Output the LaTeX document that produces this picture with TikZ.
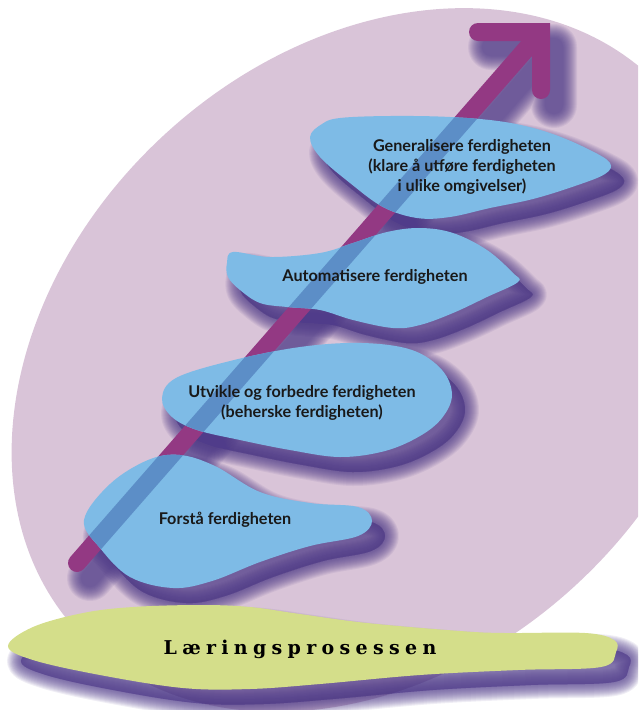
\documentclass[tikz,border=0pt]{standalone}
\usepackage{fontspec}
\setmainfont{Lato}
\newfontfamily\bannerfont[LetterSpace=28]{DejaVu Serif}
\usepackage{tikz}
\usetikzlibrary{positioning}
\definecolor{ovalcolor}{RGB}{217,196,216}
\definecolor{blobcolor}{RGB}{126,187,230}
\definecolor{seencolor}{RGB}{92,142,199}
\definecolor{arrowcolor}{RGB}{147,57,131}
\definecolor{shadowcolor}{RGB}{80,60,138}
\definecolor{bannercolor}{RGB}{212,222,138}

\newcommand{\forstapath}{plot[smooth cycle, tension=0.6] coordinates {(84,520) (100,548) (130,577) (173,588) (212,581) (260,562) (310,546) (358,536) (372,521) (358,507) (310,503) (260,492) (215,466) (180,455) (148,460) (110,484)}}
\newcommand{\utviklepath}{plot[smooth cycle, tension=0.6] coordinates {(162,398) (172,417) (197,430) (240,440) (290,450) (340,457) (385,451) (420,436) (442,418) (452,395) (442,370) (412,350) (362,343) (300,347) (230,361) (176,378)}}
\newcommand{\automatiserepath}{plot[smooth cycle, tension=0.6] coordinates {(227,263) (233,252) (270,257) (320,253) (353,243) (387,232) (420,228) (453,233) (487,250) (513,273) (518,282) (487,297) (453,313) (420,325) (393,328) (353,320) (320,310) (287,307) (260,303) (240,290) (228,277)}}
\newcommand{\generaliserepath}{plot[smooth cycle, tension=0.6] coordinates {(310,137) (320,157) (350,183) (383,207) (417,218) (450,217) (490,208) (533,199) (575,186) (605,174) (610,163) (590,150) (550,133) (505,122) (450,117) (390,116) (340,118) (322,124)}}
\newcommand{\bannerpath}{plot[smooth cycle, tension=0.6] coordinates {(8,646) (33,660) (100,675) (183,688) (250,689) (320,684) (420,675) (518,670) (601,667) (616,652) (614,640) (585,633) (505,633) (460,631) (367,623) (300,614) (250,607) (200,605) (133,607) (83,613) (33,627)}}
\newcommand{\arrowpath}{(tail) -- (tip) (barL) -- (tip) -- (barD)}

\newcommand{\softshadow}[1]{%
  \foreach \w in {28,26,...,2} {
    \filldraw[shadowcolor, opacity=0.085, line width=\w pt, line join=round,
      transform canvas={shift={(13,15)}}] #1;
  }}
\newcommand{\seenthrough}[1]{%
  \begin{scope}
    \clip #1;
    \draw[seen] \arrowpath;
  \end{scope}}

\begin{document}
\begin{tikzpicture}[x=1pt, y=-1pt,
    blob/.style={fill=blobcolor},
    growth/.style={draw=arrowcolor, line width=18pt, line cap=round, line join=miter},
    seen/.style={growth, draw=seencolor},
    stagetext/.style={align=center, font=\fontsize{16.2}{20}\selectfont\bfseries, text=black!90},
    bannertext/.style={font=\bannerfont\fontsize{19}{20}\selectfont\bfseries, text=black}
]
    \useasboundingbox (0,0) rectangle (638,710);
    \clip (0,0) rectangle (638,710);

    \coordinate (tail) at (77,563);
    \coordinate (tip) at (541,32);
    \coordinate (barL) at (478,32);
    \coordinate (barD) at (541,90);

    \fill[ovalcolor, rotate around={43:(370,360)}] (370,360) ellipse [x radius=399pt, y radius=305pt];

    \softshadow{\generaliserepath}
    \softshadow{\automatiserepath}
    \softshadow{\utviklepath}
    \softshadow{\forstapath}
    \softshadow{\bannerpath}
    \foreach \w in {46,44,...,18} {
        \draw[shadowcolor, opacity=0.085, line width=\w pt, line cap=round, line join=round,
          transform canvas={shift={(13,15)}}] \arrowpath;
    }

    \draw[growth] \arrowpath;

    \fill[blob] \generaliserepath;
    \fill[blob] \automatiserepath;
    \fill[blob] \utviklepath;
    \fill[blob] \forstapath;
    \fill[bannercolor] \bannerpath;

    \seenthrough{\generaliserepath}
    \seenthrough{\automatiserepath}
    \seenthrough{\utviklepath}
    \seenthrough{\forstapath}

    \node[stagetext] (generalisere) at (462,167) {Generalisere ferdigheten\\(klare å utføre ferdigheten\\i ulike omgivelser)};
    \node[stagetext] (automatisere) at (375,277) {Automatisere ferdigheten};
    \node[stagetext] (utvikle) at (302,403) {Utvikle og forbedre ferdigheten\\(beherske ferdigheten)};
    \node[stagetext] (forsta) at (225,520) {Forstå ferdigheten};
    \node[bannertext] (laering) at (300,649) {Læringsprosessen};
\end{tikzpicture}
\end{document}
